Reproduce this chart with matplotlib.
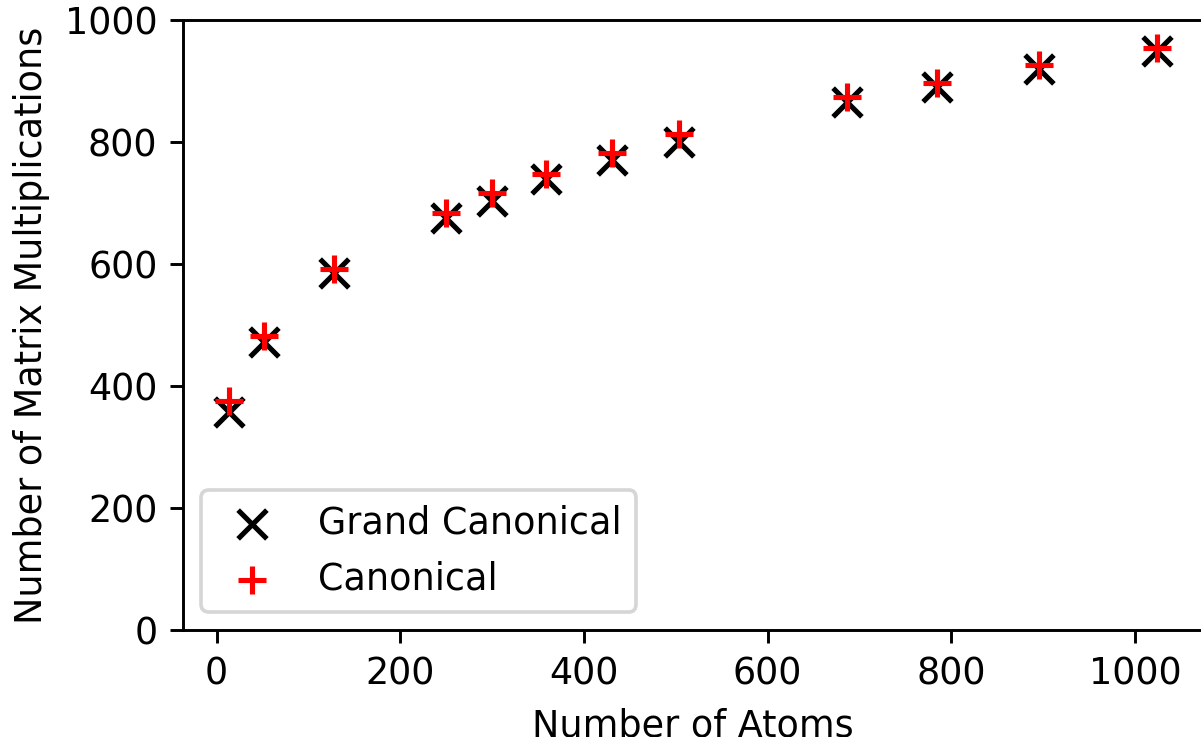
import matplotlib
matplotlib.use("Agg")
import matplotlib.pyplot as plt

atoms = [14, 52, 128, 250, 300, 359, 431, 503, 686, 784, 896, 1024]
grand_canonical = [358, 472, 585, 675, 704, 740, 770, 800, 866, 890, 920, 950]
canonical = [376, 482, 591, 683, 717, 747, 782, 813, 873, 896, 926, 954]

DPI = 263
fig = plt.figure(figsize=(1201/DPI, 737/DPI), dpi=DPI)
ax = fig.add_axes([183/1201, 1 - 630/737, 1.002 - 183/1201, (630 - 20)/737])

ax.scatter(atoms, grand_canonical, marker='x', color='k', s=62, linewidths=1.4,
           label='Grand Canonical', zorder=2)
ax.scatter(atoms, canonical, marker='+', color='r', s=62, linewidths=1.4,
           label='Canonical', zorder=3)

ax.set_ylim(0, 1000)
ax.set_xticks([0, 200, 400, 600, 800, 1000])
ax.set_yticks([0, 200, 400, 600, 800, 1000])
ax.set_xlabel('Number of Atoms')
ax.set_ylabel('Number of Matrix Multiplications')
ax.legend(loc='lower left')

fig.savefig('out.png', dpi=DPI)
